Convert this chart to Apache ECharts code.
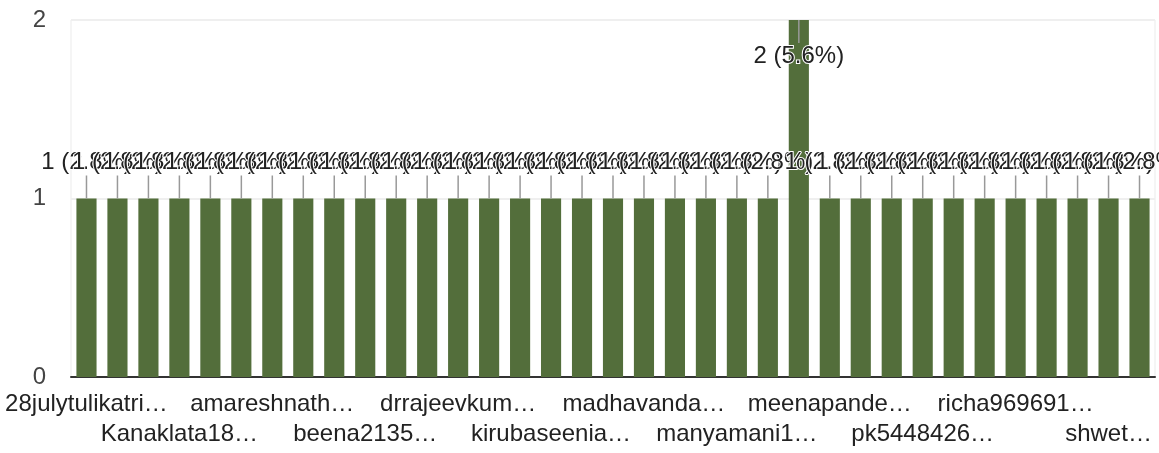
<!DOCTYPE html>
<html>
<head>
<meta charset="utf-8">
<script src="https://cdn.jsdelivr.net/npm/echarts@6/dist/echarts.min.js"></script>
<style>
  html, body { margin: 0; padding: 0; background: #fff; }
  #chart { width: 1159px; height: 453px; }
</style>
</head>
<body>
<div id="chart"></div>
<script>
// Respondent handles (shown truncated on the axis)
const categories = [
  '28julytulikatri…', 'Anitasingh…', 'Geetayadav…', 'Kanaklata18…', 'Rekhadevi…',
  'aartisharma…', 'amareshnath…', 'anjumishra…', 'archana2…', 'beena2135…',
  'bhartikumari…', 'chandni9…', 'drrajeevkum…', 'gitanjali…', 'jyotisingh…',
  'kirubaseenia…', 'kusumlata…', 'lalita12…', 'madhavanda…', 'mamtarani…',
  'manjusha…', 'manyamani1…', 'mayurika…', 'meenakshi…', 'meenapande…',
  'neerajgupta…', 'pallavi…', 'pk5448426…', 'pooja88…', 'preeti…',
  'richa969691…', 'rinkisharma…', 'sarita…', 'shwet…', 'sunil…'
];

// Number of responses per handle
const counts = [
  1, 1, 1, 1, 1, 1, 1, 1, 1, 1,
  1, 1, 1, 1, 1, 1, 1, 1, 1, 1,
  1, 1, 1, 2, 1, 1, 1, 1, 1, 1,
  1, 1, 1, 1, 1
];

const yTicks = [0, 1, 2];

const FONT = "'Liberation Sans', Arial, sans-serif";
const BAR_COLOR = '#536e3b';
const total = counts.reduce((a, b) => a + b, 0);

// every third handle is labelled, alternating between two staggered rows
const labelStyle = (row) => ({
  interval: (index) => index % 6 === row * 3,
  margin: 15 + row * 30,
  fontSize: 24,
  fontFamily: FONT,
  color: '#222'
});

const chart = echarts.init(document.getElementById('chart'), null, { renderer: 'canvas' });

chart.setOption({
  animation: false,
  grid: {
    left: 71, right: 4, top: 20, bottom: 76,
    show: true, borderColor: '#ebebeb', borderWidth: 1
  },
  xAxis: [
    {
      type: 'category',
      data: categories,
      axisTick: { show: false },
      axisLine: { lineStyle: { color: '#333', width: 2 } },
      axisLabel: labelStyle(0)
    },
    {
      type: 'category',
      data: categories,
      position: 'bottom',
      axisTick: { show: false },
      axisLine: { show: false },
      splitLine: { show: false },
      axisLabel: labelStyle(1)
    }
  ],
  yAxis: {
    type: 'value',
    min: yTicks[0],
    max: yTicks[yTicks.length - 1],
    interval: 1,
    axisLine: { show: false },
    axisTick: { show: false },
    splitLine: { lineStyle: { color: '#efefef', width: 2 } },
    axisLabel: { margin: 25, fontSize: 24, fontFamily: FONT, color: '#444' }
  },
  series: [
    {
      type: 'bar',
      xAxisIndex: 0,
      data: counts,
      barWidth: '65%',
      itemStyle: { color: BAR_COLOR }
    },
    {
      // value annotations with a short stem from the bar top
      type: 'custom',
      xAxisIndex: 0,
      clip: false,
      z: 5,
      data: counts.map((v, i) => [i, v]),
      renderItem(params, api) {
        const i = api.value(0);
        const v = api.value(1);
        const p = api.coord([i, v]);
        const area = params.coordSys;
        const dir = (p[1] - area.y < 40) ? 1 : -1;
        const stemEnd = p[1] + dir * 23;
        const pct = (v / total * 100).toFixed(1);
        return {
          type: 'group',
          children: [
            {
              type: 'line',
              shape: { x1: p[0], y1: p[1], x2: p[0], y2: stemEnd },
              style: { stroke: '#999', lineWidth: 1.5 }
            },
            {
              type: 'text',
              x: p[0],
              y: stemEnd + dir * 13,
              style: {
                text: v + ' (' + pct + '%)',
                fontSize: 24,
                fontFamily: FONT,
                fill: '#222',
                stroke: '#fff',
                lineWidth: 2,
                align: 'center',
                verticalAlign: 'middle'
              }
            }
          ]
        };
      }
    }
  ]
});
</script>
</body>
</html>
